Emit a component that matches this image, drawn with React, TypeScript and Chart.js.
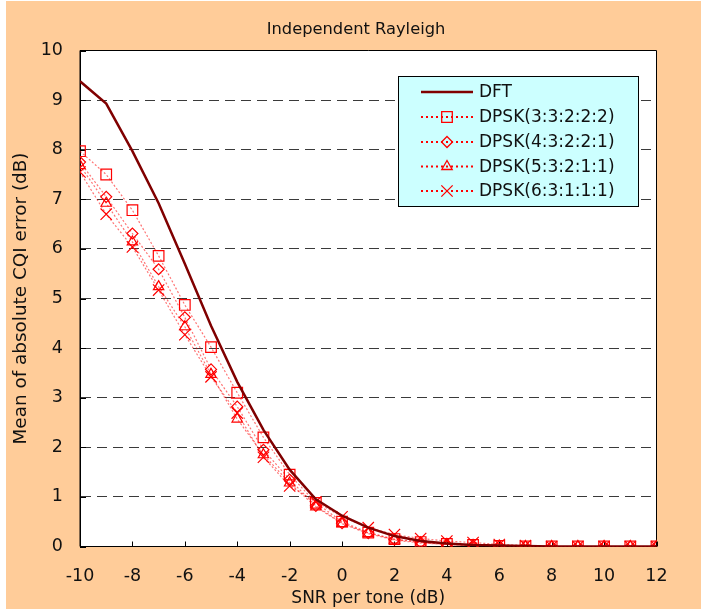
import React, { useEffect, useRef } from 'react';
import { Chart, registerables } from 'chart.js';

Chart.register(...registerables);

// ---- data ----
const snrDb = [-10, -9, -8, -7, -6, -5, -4, -3, -2, -1, 0, 1, 2, 3, 4, 5, 6, 7, 8, 9, 10, 11, 12];
const dftErr = [9.38, 8.93, 7.97, 6.92, 5.7, 4.45, 3.32, 2.35, 1.55, 0.95, 0.62, 0.38, 0.21, 0.11, 0.06, 0.03, 0.02, 0.01, 0, 0, 0, 0, 0];
const dpsk33222 = [7.97, 7.5, 6.78, 5.86, 4.87, 4.02, 3.1, 2.2, 1.45, 0.88, 0.5, 0.28, 0.15, 0.09, 0.05, 0.03, 0.01, 0, 0, 0, 0, 0, 0];
const dpsk43221 = [7.75, 7.05, 6.31, 5.59, 4.62, 3.57, 2.82, 1.95, 1.35, 0.82, 0.47, 0.27, 0.14, 0.08, 0.04, 0.02, 0.01, 0, 0, 0, 0, 0, 0];
const dpsk53211 = [7.68, 6.92, 6.14, 5.24, 4.43, 3.47, 2.57, 1.85, 1.28, 0.8, 0.46, 0.26, 0.13, 0.07, 0.04, 0.02, 0.01, 0, 0, 0, 0, 0, 0];
const dpsk63111 = [7.55, 6.7, 6.04, 5.17, 4.27, 3.42, 2.69, 1.8, 1.22, 0.9, 0.6, 0.38, 0.24, 0.16, 0.11, 0.08, 0.04, 0.02, 0, 0, 0, 0, 0];
const seriesLabels = ['DFT', 'DPSK(3:3:2:2:2)', 'DPSK(4:3:2:2:1)', 'DPSK(5:3:2:1:1)', 'DPSK(6:3:1:1:1)'];
const chartTitle = 'Independent Rayleigh';
const xAxisTitle = 'SNR per tone (dB)';
const yAxisTitle = 'Mean of absolute CQI error (dB)';
const xMin = -10, xMax = 12, xStep = 2;
const yMin = 0, yMax = 10, yStep = 1;

const FONT = '"DejaVu Sans", "Liberation Sans", sans-serif';
const ORANGE = '#FFCC99';
const DARKRED = '#800000';
const RED = '#FF0000';

const toPts = (vals: number[]) => vals.map((v, i) => ({ x: snrDb[i], y: v }));

function drawMarker(ctx: CanvasRenderingContext2D, style: string, x: number, y: number, r: number) {
  ctx.beginPath();
  if (style === 'rect') {
    const s = r * Math.SQRT1_2;
    ctx.rect(x - s, y - s, 2 * s, 2 * s);
  } else if (style === 'rectRot') {
    ctx.moveTo(x, y - r); ctx.lineTo(x + r, y); ctx.lineTo(x, y + r); ctx.lineTo(x - r, y); ctx.closePath();
  } else if (style === 'triangle') {
    const a = r * Math.cos(Math.PI / 6);
    ctx.moveTo(x, y - r); ctx.lineTo(x + a, y + r / 2); ctx.lineTo(x - a, y + r / 2); ctx.closePath();
  } else if (style === 'crossRot') {
    const s = r * Math.SQRT1_2;
    ctx.moveTo(x - s, y - s); ctx.lineTo(x + s, y + s);
    ctx.moveTo(x + s, y - s); ctx.lineTo(x - s, y + s);
  }
  ctx.stroke();
}

const decoPlugin = {
  id: 'deco',
  beforeDraw(chart: any) {
    const { ctx, chartArea: a, width, height } = chart;
    ctx.save();
    ctx.fillStyle = '#FFFFFF';
    ctx.fillRect(0, 0, width, height);
    ctx.fillStyle = ORANGE;
    ctx.fillRect(6, 1, width - 6, height - 1);
    ctx.fillStyle = '#FFFFFF';
    ctx.fillRect(a.left, a.top, a.right - a.left, a.bottom - a.top);
    ctx.fillStyle = '#111';
    ctx.font = '16.3px ' + FONT;
    ctx.textAlign = 'center';
    ctx.textBaseline = 'middle';
    ctx.fillText(chartTitle, 356, 30);
    ctx.restore();
  },
  beforeDatasetsDraw(chart: any) {
    const { ctx, chartArea: a, scales } = chart;
    ctx.save();
    ctx.strokeStyle = '#000';
    ctx.lineWidth = 1;
    ctx.beginPath();
    ctx.rect(a.left, a.top, a.right - a.left, a.bottom - a.top);
    ctx.stroke();
    ctx.beginPath();
    scales.x.ticks.forEach((t: any) => {
      const px = Math.round(scales.x.getPixelForValue(t.value)) + 0.5;
      ctx.moveTo(px, a.bottom);
      ctx.lineTo(px, a.bottom - 5);
    });
    scales.y.ticks.forEach((t: any) => {
      const py = Math.round(scales.y.getPixelForValue(t.value)) + 0.5;
      ctx.moveTo(a.left, py);
      ctx.lineTo(a.left + 6, py);
    });
    ctx.stroke();
    ctx.restore();
  },
  afterDraw(chart: any) {
    const { ctx } = chart;
    const bx = 398, by = 76, bw = 240, bh = 130;
    ctx.save();
    ctx.fillStyle = '#CCFFFF';
    ctx.fillRect(bx, by, bw, bh);
    ctx.strokeStyle = '#000';
    ctx.lineWidth = 1;
    ctx.strokeRect(bx + 0.5, by + 0.5, bw, bh);
    const rowY = [92, 117, 142, 166.5, 191];
    chart.data.datasets.forEach((ds: any, i: number) => {
      const y = rowY[i];
      ctx.save();
      ctx.strokeStyle = i === 0 ? DARKRED : RED;
      ctx.lineWidth = i === 0 ? 2.5 : 2;
      ctx.setLineDash(i === 0 ? [] : [2, 3]);
      ctx.beginPath();
      ctx.moveTo(421, y);
      ctx.lineTo(473, y);
      ctx.stroke();
      ctx.setLineDash([]);
      if (i > 0) {
        ctx.lineWidth = 1.3;
        ctx.strokeStyle = RED;
        drawMarker(ctx, ds.pointStyle, 447, y, ds.pointRadius);
      }
      ctx.restore();
      ctx.fillStyle = '#111';
      ctx.font = '17px ' + FONT;
      ctx.textAlign = 'left';
      ctx.textBaseline = 'middle';
      ctx.fillText(ds.label, 479, y + 1);
    });
    ctx.restore();
  },
};

export default function App() {
  const ref = useRef<HTMLCanvasElement | null>(null);
  useEffect(() => {
    document.body.style.margin = '0';
    if (!ref.current) return;
    const dpskStyle = (label: string, vals: number[], pointStyle: string, r: number) => ({
      label,
      data: toPts(vals),
      borderColor: 'rgba(255,0,0,0.55)',
      borderWidth: 1.2,
      borderDash: [2, 2],
      pointStyle,
      pointRadius: r,
      pointBorderColor: RED,
      pointBackgroundColor: 'rgba(0,0,0,0)',
      pointBorderWidth: 1.2,
      tension: 0,
      fill: false,
    });
    const chart = new Chart(ref.current, {
      type: 'line',
      data: {
        datasets: [
          {
            label: seriesLabels[0],
            data: toPts(dftErr),
            borderColor: DARKRED,
            borderWidth: 2.5,
            pointRadius: 0,
            tension: 0,
            fill: false,
          },
          dpskStyle(seriesLabels[1], dpsk33222, 'rect', 7.5),
          dpskStyle(seriesLabels[2], dpsk43221, 'rectRot', 5.5),
          dpskStyle(seriesLabels[3], dpsk53211, 'triangle', 6),
          dpskStyle(seriesLabels[4], dpsk63111, 'crossRot', 8),
        ] as any,
      },
      options: {
        responsive: false,
        animation: false,
        layout: { padding: { left: 10, right: 44.5, top: 50.5, bottom: 0 } },
        plugins: {
          legend: { display: false },
          title: { display: false },
          tooltip: { enabled: false },
        },
        scales: {
          x: {
            type: 'linear',
            min: xMin,
            max: xMax,
            afterFit: (s: any) => { s.height = 62.5; },
            ticks: { stepSize: xStep, color: '#111', font: { family: FONT, size: 17.5 }, padding: 19 },
            grid: { display: false, drawTicks: false },
            border: { display: true, color: '#000', width: 1 },
            title: { display: true, text: xAxisTitle, color: '#111', font: { family: FONT, size: 17 }, padding: { top: 0, bottom: 0 } },
          },
          y: {
            type: 'linear',
            min: yMin,
            max: yMax,
            afterFit: (s: any) => { s.width = 70; },
            ticks: { stepSize: yStep, color: '#111', font: { family: FONT, size: 17.5 }, padding: 17 },
            grid: {
              drawTicks: false,
              color: (c: any) => (c.tick && (c.tick.value === yMin || c.tick.value === yMax) ? 'rgba(0,0,0,0)' : '#3a3a3a'),
              lineWidth: 1,
            },
            border: { display: true, color: '#000', width: 1, dash: [10, 6] } as any,
            title: { display: true, text: yAxisTitle, color: '#111', font: { family: FONT, size: 18.4 }, padding: { top: 0, bottom: 0 } },
          },
        },
      } as any,
      plugins: [decoPlugin],
    });
    return () => chart.destroy();
  }, []);
  return <canvas ref={ref} width={701} height={609} style={{ display: 'block' }} />;
}
